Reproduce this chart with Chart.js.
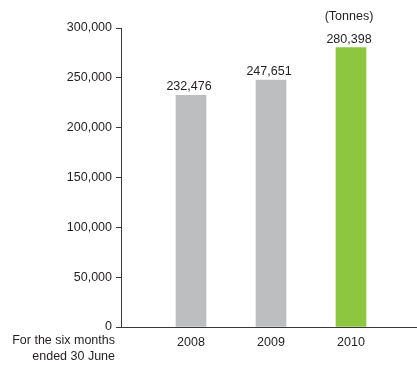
<!DOCTYPE html>
<html>
<head>
<meta charset="utf-8">
<script src="https://cdn.jsdelivr.net/npm/chart.js@4"></script>
<style>
  html, body { margin: 0; padding: 0; background: #ffffff; }
  #wrap { width: 417px; height: 365px; }
</style>
</head>
<body>
<div id="wrap"><canvas id="c" width="417" height="365"></canvas></div>
<script>
// Production volume, six months ended 30 June
const years = ['2008', '2009', '2010'];
const tonnes = [232476, 247651, 280398];
const barColors = ['#bdbec0', '#bdbec0', '#8dc63f'];
const yTicks = [0, 50000, 100000, 150000, 200000, 250000, 300000];
const unitLabel = '(Tonnes)';
const periodLabel = ['For the six months', 'ended 30 June'];

const TEXT = '#231f20';
const FONT = '"Liberation Sans", Arial, sans-serif';
const SIZE = 12.5;
const fmt = v => v.toLocaleString('en-US');

const annotations = {
  id: 'annotations',
  afterDatasetsDraw(chart) {
    const ctx = chart.ctx;
    const meta = chart.getDatasetMeta(0);
    ctx.save();
    ctx.fillStyle = TEXT;
    ctx.font = SIZE + 'px ' + FONT;
    ctx.textAlign = 'center';
    ctx.textBaseline = 'alphabetic';
    meta.data.forEach((bar, i) => {
      ctx.fillText(fmt(tonnes[i]), bar.x - 2, bar.y - 5);
    });
    const xs = chart.scales.x;
    ctx.fillText(unitLabel, xs.getPixelForValue(years.length - 1) - 2, 20);
    ctx.textAlign = 'right';
    const left = chart.chartArea.left - 6;
    ctx.fillText(periodLabel[0], left, 344);
    ctx.fillText(periodLabel[1], left, 360);
    ctx.restore();
  }
};

new Chart(document.getElementById('c'), {
  type: 'bar',
  data: {
    datasets: [{
      data: tonnes.map((v, i) => ({ x: i, y: v })),
      backgroundColor: barColors,
      borderWidth: 0,
      barThickness: 30
    }]
  },
  options: {
    responsive: false,
    animation: false,
    layout: { padding: { top: 28, right: 0, bottom: 0, left: 0 } },
    plugins: { legend: { display: false }, tooltip: { enabled: false } },
    scales: {
      x: {
        type: 'linear',
        offset: false,
        min: -0.875,
        max: 2.825,
        grid: { display: false, drawTicks: false, offset: false },
        border: { display: true, color: '#3a3a3a', width: 1 },
        afterBuildTicks(scale) {
          scale.ticks = years.map((y, i) => ({ value: i }));
        },
        afterFit(scale) { scale.height = 38; },
        ticks: {
          padding: 8,
          color: TEXT,
          font: { family: FONT, size: SIZE },
          callback: v => years[v] ?? ''
        }
      },
      y: {
        min: 0,
        max: 300000,
        afterBuildTicks(scale) {
          scale.ticks = yTicks.map(v => ({ value: v }));
        },
        afterFit(scale) { scale.width = 121; },
        grid: { drawOnChartArea: false, drawTicks: true, tickLength: 5, color: '#3a3a3a' },
        border: { display: true, color: '#3a3a3a', width: 1 },
        ticks: {
          padding: 4,
          color: TEXT,
          font: { family: FONT, size: SIZE },
          callback: v => fmt(v)
        }
      }
    }
  },
  plugins: [annotations]
});
</script>
</body>
</html>
